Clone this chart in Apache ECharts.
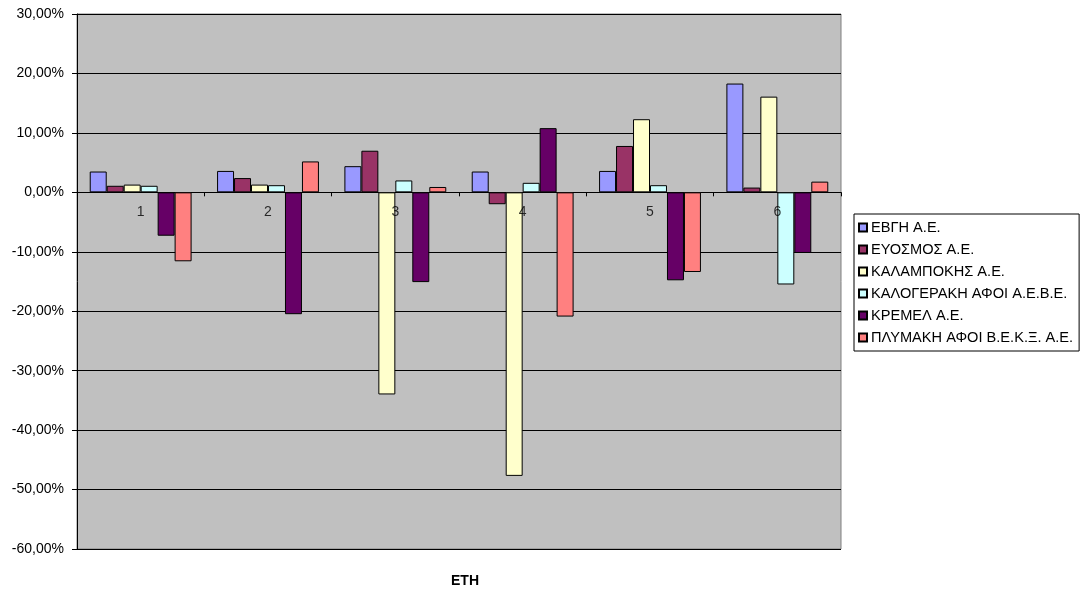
<!DOCTYPE html>
<html>
<head>
<meta charset="utf-8">
<script src="https://cdn.jsdelivr.net/npm/echarts@6/dist/echarts.min.js"></script>
<style>html,body{margin:0;padding:0;background:#fff}#c{width:1088px;height:590px}</style>
</head>
<body>
<div id="c"></div>
<script>
var categories = ['1', '2', '3', '4', '5', '6'];
var seriesNames = ['ΕΒΓΗ Α.Ε.', 'ΕΥΟΣΜΟΣ Α.Ε.', 'ΚΑΛΑΜΠΟΚΗΣ Α.Ε.', 'ΚΑΛΟΓΕΡΑΚΗ ΑΦΟΙ Α.Ε.Β.Ε.', 'ΚΡΕΜΕΛ Α.Ε.', 'ΠΛΥΜΑΚΗ ΑΦΟΙ Β.Ε.Κ.Ξ. Α.Ε.'];
var evgh       = [0.035, 0.036, 0.044, 0.035, 0.036, 0.183];
var eyosmos    = [0.011, 0.024, 0.070, -0.020, 0.078, 0.008];
var kalampokis = [0.013, 0.013, -0.340, -0.477, 0.123, 0.161];
var kalogeraki = [0.011, 0.012, 0.020, 0.016, 0.012, -0.155];
var kremel     = [-0.073, -0.205, -0.151, 0.108, -0.148, -0.102];
var plymaki    = [-0.116, 0.052, 0.009, -0.209, -0.134, 0.018];
var colors = ['#9999FF', '#993366', '#FFFFCC', '#CCFFFF', '#660066', '#FF8080'];
var xAxisTitle = 'ΕΤΗ';

var allData = [evgh, eyosmos, kalampokis, kalogeraki, kremel, plymaki];
var font = 'Liberation Sans, Arial, sans-serif';

var series = seriesNames.map(function (name, i) {
  return {
    name: name,
    type: 'bar',
    data: allData[i],
    barGap: '0%',
    barCategoryGap: '20%',
    itemStyle: {color: colors[i], borderColor: '#000', borderWidth: 1}
  };
});
// category labels placed along the zero line (axis crosses at 0)
series.push({
  name: '_cats',
  type: 'scatter',
  data: categories.map(function (c) { return [c, 0]; }),
  symbolSize: 2,
  itemStyle: {color: 'rgba(0,0,0,0)'},
  silent: true,
  z: 5,
  label: {
    show: true, position: 'bottom', distance: 12,
    fontFamily: font, fontSize: 14, color: '#000',
    formatter: function (p) { return categories[p.dataIndex]; }
  }
});

var chart = echarts.init(document.getElementById('c'), null, {renderer: 'canvas'});
chart.setOption({
  animation: false,
  backgroundColor: '#ffffff',
  title: {
    text: xAxisTitle,
    left: 460, top: 569,
    textAlign: 'center',
    textStyle: {fontFamily: font, fontSize: 14, fontWeight: 'bold', color: '#000'}
  },
  grid: {
    left: 77, top: 14, right: 247, bottom: 41,
    show: true, backgroundColor: '#C0C0C0', borderColor: '#808080', borderWidth: 1
  },
  legend: {
    orient: 'vertical',
    left: 854, top: 214,
    padding: [6, 6, 6, 4],
    itemWidth: 8, itemHeight: 8, itemGap: 7,
    borderColor: '#000', borderWidth: 1,
    icon: 'rect',
    textStyle: {fontFamily: font, fontSize: 14.6, lineHeight: 15, color: '#000', padding: [0, 0, 0, -1]},
    data: seriesNames
  },
  xAxis: {
    type: 'category',
    data: categories,
    axisLine: {onZero: true, lineStyle: {color: '#000', width: 1}},
    axisTick: {show: true, length: 4, lineStyle: {color: '#000'}},
    axisLabel: {show: false},
    splitLine: {show: false}
  },
  yAxis: {
    type: 'value',
    min: -0.6, max: 0.3, interval: 0.1,
    axisLine: {show: true, lineStyle: {color: '#000', width: 1}},
    axisTick: {show: true, length: 5, lineStyle: {color: '#000'}},
    axisLabel: {
      fontFamily: font, fontSize: 14, color: '#000', margin: 13,
      formatter: function (v) { return (Math.round(v * 10000) / 100).toFixed(2).replace('.', ',') + '%'; }
    },
    splitLine: {show: true, lineStyle: {color: '#000', width: 1}}
  },
  series: series
});
</script>
</body>
</html>
